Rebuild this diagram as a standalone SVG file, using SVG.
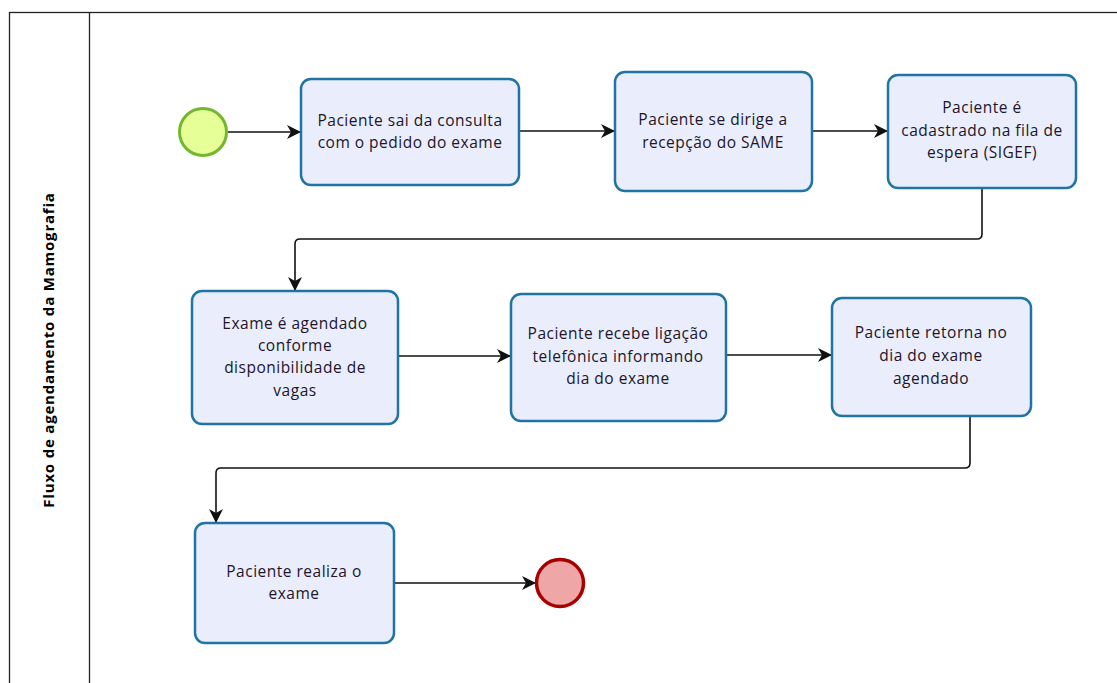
<svg xmlns="http://www.w3.org/2000/svg" width="1117" height="683" viewBox="0 0 1117 683">
<defs>
<style>
.task{fill:#eaeefc;stroke:#1f74a4;stroke-width:2.5}
.t{font-family:"Open Sans","Noto Sans",sans-serif;font-size:15.5px;letter-spacing:0.5px;fill:#22142a;text-anchor:middle}
.c{fill:none;stroke:#111;stroke-width:1.6;marker-end:url(#arr)}
</style>
<marker id="arr" viewBox="0 0 14 14" refX="13" refY="7" markerWidth="14" markerHeight="14" markerUnits="userSpaceOnUse" orient="auto">
<path d="M0,0 L14,7 L0,14 L4,7 z" fill="#111"/>
</marker>
</defs>
<rect width="1117" height="683" fill="#fff"/>
<g id="pool">
<rect x="9.5" y="12.5" width="1130" height="700" fill="none" stroke="#222" stroke-width="1.3"/>
<line x1="89.5" y1="12.5" x2="89.5" y2="690" stroke="#222" stroke-width="1.3"/>
<text transform="translate(54,350) rotate(-90)" font-family="'Open Sans','Noto Sans',sans-serif" font-weight="bold" font-size="15" letter-spacing="0.8" text-anchor="middle" fill="#000">Fluxo de agendamento da Mamografia</text>
</g>
<g id="connectors">
<path class="c" d="M228,132 H300"/>
<path class="c" d="M519,131 H614"/>
<path class="c" d="M812,131 H887"/>
<path class="c" d="M982,188 V234 Q982,239 977,239 H300 Q295,239 295,244 V290"/>
<path class="c" d="M398,356 H510"/>
<path class="c" d="M726,355 H831"/>
<path class="c" d="M970,416 V463 Q970,468 965,468 H221 Q216,468 216,473 V522"/>
<path class="c" d="M394,583 H535"/>
</g>
<g id="start"><circle cx="203" cy="132" r="23.5" fill="#e6ff97" stroke="#74b72e" stroke-width="3"/></g>
<g id="task1"><rect class="task" x="301" y="79" width="218" height="106" rx="10"/>
<text class="t" x="410" y="126">Paciente sai da consulta</text><text class="t" x="410" y="148">com o pedido do exame</text></g>
<g id="task2"><rect class="task" x="615" y="72" width="197" height="119" rx="10"/>
<text class="t" x="713" y="125">Paciente se dirige a</text><text class="t" x="713" y="148">recepção do SAME</text></g>
<g id="task3"><rect class="task" x="888" y="75" width="188" height="113" rx="10"/>
<text class="t" x="982" y="113">Paciente é</text><text class="t" x="982" y="136">cadastrado na fila de</text><text class="t" x="982" y="158">espera (SIGEF)</text></g>
<g id="task4"><rect class="task" x="192" y="291" width="206" height="133" rx="10"/>
<text class="t" x="295" y="329">Exame é agendado</text><text class="t" x="295" y="351">conforme</text><text class="t" x="295" y="373">disponibilidade de</text><text class="t" x="295" y="396">vagas</text></g>
<g id="task5"><rect class="task" x="511" y="294" width="215" height="127" rx="10"/>
<text class="t" x="618" y="339">Paciente recebe ligação</text><text class="t" x="618" y="362">telefônica informando</text><text class="t" x="618" y="384">dia do exame</text></g>
<g id="task6"><rect class="task" x="832" y="298" width="199" height="118" rx="10"/>
<text class="t" x="931" y="338">Paciente retorna no</text><text class="t" x="931" y="361">dia do exame</text><text class="t" x="931" y="384">agendado</text></g>
<g id="task7"><rect class="task" x="195" y="523" width="199" height="120" rx="10"/>
<text class="t" x="294" y="577">Paciente realiza o</text><text class="t" x="294" y="599">exame</text></g>
<g id="end"><circle cx="560" cy="583" r="23.5" fill="#eea6a6" stroke="#a80000" stroke-width="3.5"/></g>
</svg>
